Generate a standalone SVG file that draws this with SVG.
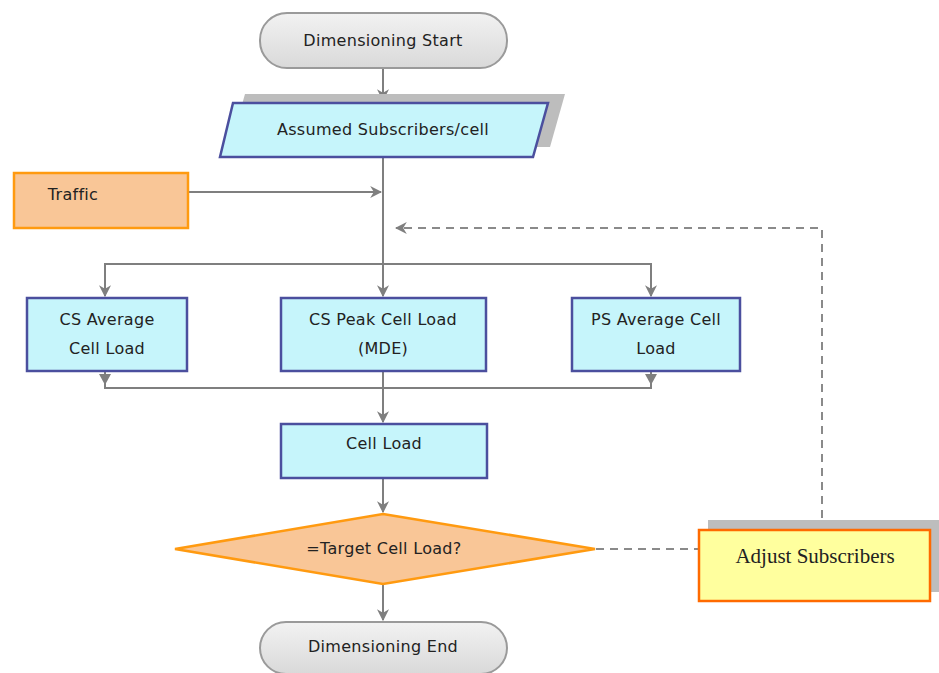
<svg xmlns="http://www.w3.org/2000/svg" width="939" height="673" viewBox="0 0 939 673">
<defs>
<marker id="arrs" viewBox="0 0 10 10" refX="9" refY="5" markerWidth="12" markerHeight="12" orient="auto" markerUnits="userSpaceOnUse">
<path d="M0,0 L10,5 L0,10 L3,5 z" fill="#7f7f7f"/>
</marker>
<linearGradient id="term" x1="0" y1="0" x2="0" y2="1">
<stop offset="0" stop-color="#f2f2f2"/>
<stop offset="1" stop-color="#d9d9d9"/>
</linearGradient>
</defs>
<style>
.t{font-family:"DejaVu Sans","Liberation Sans",sans-serif;font-size:16px;letter-spacing:0.3px;fill:#222;text-anchor:middle}
.term{fill:url(#term);stroke:#9a9a9a;stroke-width:2}
.proc{fill:#c6f5fb;stroke:#4b4f9e;stroke-width:2.5}
.orng{fill:#f9c697;stroke:#ff9a10;stroke-width:2.5}
.shadow{fill:#bdbdbd}
.ln{fill:none;stroke:#7f7f7f;stroke-width:2}
.dash{fill:none;stroke:#8a8a8a;stroke-width:2;stroke-dasharray:8,6}
</style>
<rect width="939" height="673" fill="#ffffff"/>

<g id="connectors">
<path class="ln" d="M383,68 V100" marker-end="url(#arrs)"/>
<path class="ln" d="M383,157 V296" marker-end="url(#arrs)"/>
<path class="ln" d="M188,192 H381" marker-end="url(#arrs)"/>
<path class="ln" d="M105,296 V264 H651 V296" marker-end="url(#arrs)"/>
<path class="ln" d="M105,264 V296" marker-end="url(#arrs)"/>
<path class="ln" d="M105,371 V388 H651 V371"/>
<path d="M99,374 L111,374 L105,385 z" fill="#7f7f7f"/>
<path d="M645,374 L657,374 L651,385 z" fill="#7f7f7f"/>
<path class="ln" d="M383,371 V422" marker-end="url(#arrs)"/>
<path class="ln" d="M383,478 V512" marker-end="url(#arrs)"/>
<path class="ln" d="M383,584 V620" marker-end="url(#arrs)"/>
<path class="dash" d="M596,549 H699"/>
<path class="dash" d="M822,518 V228 H396" marker-end="url(#arrs)"/>
</g>

<g id="start">
<rect class="term" x="260" y="13" width="247" height="55" rx="27" ry="27"/>
<text class="t" x="383" y="46">Dimensioning Start</text>
</g>

<g id="assumed">
<path class="shadow" d="M245,94 L565,94 L550,147 L230,147 z"/>
<path class="proc" d="M233,103 L548,103 L533,157 L220,157 z"/>
<text class="t" x="383" y="135">Assumed Subscribers/cell</text>
</g>

<g id="traffic">
<rect class="orng" x="14" y="173" width="174" height="55"/>
<text class="t" x="73" y="200">Traffic</text>
</g>

<g id="cs-average">
<rect class="proc" x="27" y="298" width="160" height="73"/>
<text class="t" x="107" y="325">CS Average</text>
<text class="t" x="107" y="354">Cell Load</text>
</g>

<g id="cs-peak">
<rect class="proc" x="281" y="298" width="205" height="73"/>
<text class="t" x="383" y="325">CS Peak Cell Load</text>
<text class="t" x="383" y="354">(MDE)</text>
</g>

<g id="ps-average">
<rect class="proc" x="572" y="298" width="168" height="73"/>
<text class="t" x="656" y="325">PS Average Cell</text>
<text class="t" x="656" y="354">Load</text>
</g>

<g id="cell-load">
<rect class="proc" x="281" y="424" width="206" height="54"/>
<text class="t" x="384" y="449">Cell Load</text>
</g>

<g id="target">
<path class="orng" d="M383,514 L595,549 L383,584 L175,549 z"/>
<text class="t" x="384" y="554">=Target Cell Load?</text>
</g>

<g id="end">
<rect class="term" x="260" y="622" width="247" height="52" rx="26" ry="26"/>
<text class="t" x="383" y="652">Dimensioning End</text>
</g>

<g id="adjust">
<rect class="shadow" x="708" y="520" width="231" height="72"/>
<rect x="699" y="530" width="231" height="71" fill="#ffff9e" stroke="#ff6a00" stroke-width="2.5"/>
<text x="815" y="563" font-family="'Liberation Serif','DejaVu Serif',serif" font-size="21" fill="#222" text-anchor="middle">Adjust Subscribers</text>
</g>
</svg>
